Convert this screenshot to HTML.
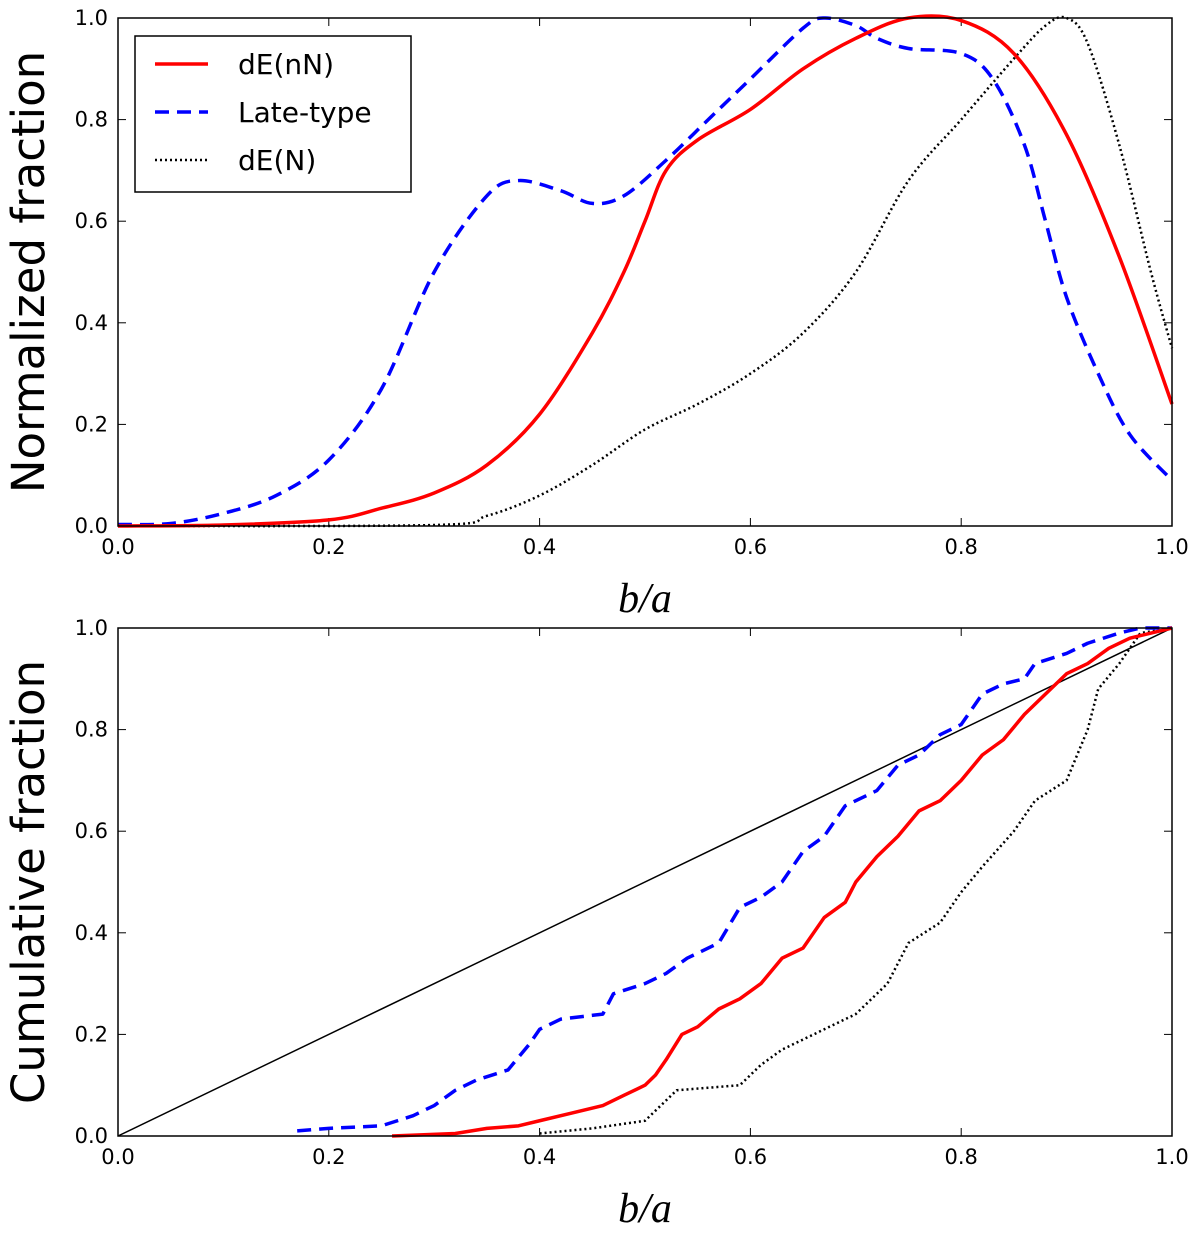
<!DOCTYPE html>
<html><head><meta charset="utf-8"><style>
body{margin:0;background:#fff}
svg{display:block}
text{font-family:"DejaVu Sans","Liberation Sans",sans-serif}
text.serif{font-family:"Liberation Serif","DejaVu Serif",serif;font-style:italic}
</style></head><body>
<svg id="c" width="1200" height="1242" xmlns="http://www.w3.org/2000/svg"></svg>
<script>
const xTicks=[0,0.2,0.4,0.6,0.8,1.0];
const yTicks=[0,0.2,0.4,0.6,0.8,1.0];
const tickLabels=["0.0","0.2","0.4","0.6","0.8","1.0"];
const topRedX=[0,0.1,0.2,0.25,0.3,0.35,0.4,0.45,0.48,0.5,0.52,0.55,0.6,0.65,0.7,0.75,0.8,0.85,0.9,0.95,1.0];
const topRedY=[0,0.002,0.012,0.035,0.065,0.12,0.22,0.38,0.5,0.6,0.7,0.76,0.82,0.9,0.96,1.0,0.995,0.93,0.77,0.53,0.24];
const topBlueX=[0,0.05,0.1,0.15,0.2,0.25,0.3,0.35,0.38,0.42,0.45,0.48,0.52,0.56,0.6,0.65,0.67,0.7,0.72,0.75,0.8,0.83,0.86,0.88,0.9,0.93,0.96,1.0];
const topBlueY=[0.003,0.005,0.025,0.06,0.13,0.27,0.5,0.65,0.68,0.66,0.635,0.65,0.72,0.8,0.88,0.98,1.0,0.985,0.96,0.94,0.93,0.88,0.75,0.6,0.45,0.3,0.18,0.09];
const topBlackX=[0,0.3,0.35,0.4,0.45,0.5,0.55,0.6,0.65,0.7,0.75,0.8,0.85,0.88,0.9,0.92,0.95,0.98,1.0];
const topBlackY=[0,0.002,0.02,0.06,0.12,0.19,0.24,0.3,0.38,0.5,0.68,0.8,0.92,0.985,1.0,0.95,0.75,0.5,0.35];
const botBlueX=[0.17,0.2,0.25,0.28,0.3,0.32,0.34,0.37,0.39,0.4,0.42,0.46,0.47,0.5,0.52,0.54,0.57,0.59,0.61,0.63,0.65,0.67,0.69,0.72,0.74,0.76,0.78,0.8,0.82,0.84,0.86,0.87,0.9,0.92,0.95,0.97,1];
const botBlueY=[0.01,0.015,0.02,0.04,0.06,0.09,0.11,0.13,0.18,0.21,0.23,0.24,0.28,0.3,0.32,0.35,0.38,0.45,0.47,0.5,0.56,0.59,0.65,0.68,0.73,0.75,0.79,0.81,0.87,0.89,0.9,0.93,0.95,0.97,0.99,1,1];
const botRedX=[0.26,0.32,0.35,0.38,0.4,0.43,0.46,0.48,0.5,0.51,0.52,0.535,0.55,0.57,0.59,0.61,0.63,0.65,0.67,0.69,0.7,0.72,0.74,0.76,0.78,0.8,0.82,0.84,0.86,0.88,0.9,0.92,0.94,0.96,1];
const botRedY=[0,0.005,0.015,0.02,0.03,0.045,0.06,0.08,0.1,0.12,0.15,0.2,0.215,0.25,0.27,0.3,0.35,0.37,0.43,0.46,0.5,0.55,0.59,0.64,0.66,0.7,0.75,0.78,0.83,0.87,0.91,0.93,0.96,0.98,1];
const botBlackX=[0.4,0.45,0.5,0.52,0.53,0.59,0.61,0.63,0.66,0.7,0.73,0.75,0.78,0.8,0.82,0.85,0.87,0.9,0.92,0.93,0.95,0.97,1];
const botBlackY=[0.005,0.015,0.03,0.07,0.09,0.1,0.14,0.17,0.2,0.24,0.3,0.38,0.42,0.48,0.53,0.6,0.66,0.7,0.8,0.88,0.93,0.99,1];

const NS="http://www.w3.org/2000/svg";
const svg=document.getElementById('c');
const L=118,R=1172;
function mk(t,a,p){const e=document.createElementNS(NS,t);for(const k in a)e.setAttribute(k,a[k]);(p||svg).appendChild(e);return e;}
function smooth(pts){let d="M"+pts[0][0]+","+pts[0][1];for(let i=0;i<pts.length-1;i++){const p0=pts[i-1]||pts[i],p1=pts[i],p2=pts[i+1],p3=pts[i+2]||p2;const c1x=p1[0]+(p2[0]-p0[0])/6,c1y=p1[1]+(p2[1]-p0[1])/6,c2x=p2[0]-(p3[0]-p1[0])/6,c2y=p2[1]-(p3[1]-p1[1])/6;d+=`C${c1x},${c1y},${c2x},${c2y},${p2[0]},${p2[1]}`;}return d;}
function panel(T,B,name,ylab){
  const sx=v=>L+v*(R-L), sy=v=>B-v*(B-T);
  const g=mk('g',{});
  
  
  xTicks.forEach((v,i)=>{const x=sx(v);
    const t1=mk('line',{x1:x,x2:x,y1:B,y2:B-8,stroke:'#000','stroke-width':1},g);
    mk('line',{x1:x,x2:x,y1:T,y2:T+8,stroke:'#000','stroke-width':1},g);
    const tx=mk('text',{x:x,y:B+28,'text-anchor':'middle','font-size':21},g);tx.textContent=tickLabels[i];});
  yTicks.forEach((v,i)=>{const y=sy(v);
    mk('line',{x1:L,x2:L+8,y1:y,y2:y,stroke:'#000','stroke-width':1},g);
    mk('line',{x1:R,x2:R-8,y1:y,y2:y,stroke:'#000','stroke-width':1},g);
    const tx=mk('text',{x:L-10,y:y+7,'text-anchor':'end','font-size':21},g);tx.textContent=tickLabels[i];});
  const yl=mk('text',{x:0,y:0,'text-anchor':'middle','font-size':45,transform:`translate(44,${(T+B)/2}) rotate(-90)`},g);yl.textContent=ylab;
  
  const xl=mk('text',{x:645,y:B+86,'text-anchor':'middle','font-size':42,'class':'serif'},g);xl.textContent='b/a';
  
  return {g,sx,sy};
}
function curve(p,X,Y,style,name,isSmooth){
  let pts=X.map((x,i)=>[p.sx(x),p.sy(Y[i])]);
  let d;
  if(isSmooth)d=smooth(pts);
  else d="M"+pts.map(q=>q.join(",")).join("L");
  const e=mk('path',Object.assign({d,fill:'none','stroke-linejoin':'round'},style),p.g);
  
}
const red={stroke:'#ff0000','stroke-width':3.5};
const blue={stroke:'#0000ff','stroke-width':3.5,'stroke-dasharray':'14,8'};
const blk={stroke:'#000','stroke-width':2.5,'stroke-dasharray':'2,3'};

const p1=panel(18,526,'top-panel','Normalized fraction');
curve(p1,topBlackX,topBlackY,blk,'line-dEN',true);
curve(p1,topBlueX,topBlueY,blue,'line-late-type',true);
curve(p1,topRedX,topRedY,red,'line-dEnN',true);
mk('rect',{x:L,y:18,width:R-L,height:508,fill:'none',stroke:'#000','stroke-width':1.5},p1.g);
const leg=mk('g',{});

mk('rect',{x:135,y:36,width:276,height:156,fill:'#fff',stroke:'#000','stroke-width':1.5},leg);
[["dE(nN)",red,64],["Late-type",blue,112],["dE(N)",blk,160]].forEach(([t,s,y])=>{
  const ln=mk('line',Object.assign({x1:155,x2:208,y1:y,y2:y},s),leg);
  
  const tx=mk('text',{x:238,y:y+10,'font-size':28},leg);tx.textContent=t;
  
});

const p2=panel(628,1136,'bottom-panel','Cumulative fraction');
const diag=mk('line',{x1:p2.sx(0),y1:p2.sy(0),x2:p2.sx(1),y2:p2.sy(1),stroke:'#000','stroke-width':1.5},p2.g);

curve(p2,botBlackX,botBlackY,blk,'cdf-dEN',false);
curve(p2,botBlueX,botBlueY,blue,'cdf-late-type',false);
curve(p2,botRedX,botRedY,red,'cdf-dEnN',false);
mk('rect',{x:L,y:628,width:R-L,height:508,fill:'none',stroke:'#000','stroke-width':1.5},p2.g);
</script>
</body></html>
